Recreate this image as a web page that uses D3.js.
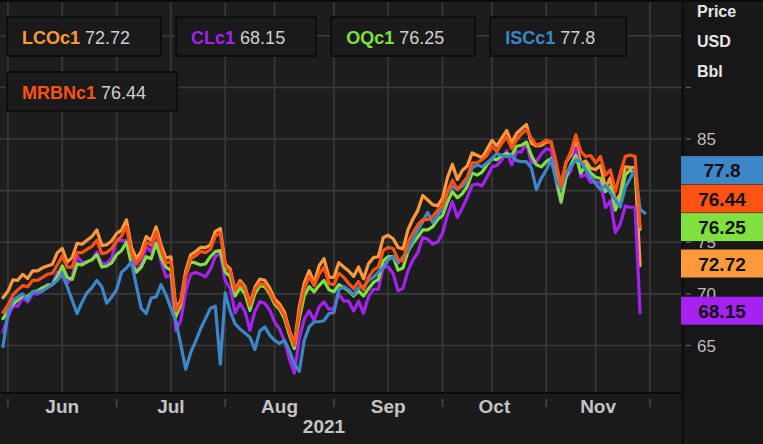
<!DOCTYPE html>
<html><head><meta charset="utf-8">
<script src="https://cdn.jsdelivr.net/npm/d3@7"></script>
<style>
html,body{margin:0;padding:0;background:#191919;}
svg{display:block;}
</style></head><body>
<svg id="c" width="763" height="444"></svg>
<script>
// ---------------- DATA ----------------
const dates = ["5/28",
"6/1","6/2","6/3","6/4","6/7","6/8","6/9","6/10","6/11","6/14","6/15","6/16","6/17","6/18","6/21","6/22","6/23","6/24","6/25","6/28","6/29","6/30",
"7/1","7/2","7/5","7/6","7/7","7/8","7/9","7/12","7/13","7/14","7/15","7/16","7/19","7/20","7/21","7/22","7/23","7/26","7/27","7/28","7/29","7/30",
"8/2","8/3","8/4","8/5","8/6","8/9","8/10","8/11","8/12","8/13","8/16","8/17","8/18","8/19","8/20","8/23","8/24","8/25","8/26","8/27","8/30","8/31",
"9/1","9/2","9/3","9/6","9/7","9/8","9/9","9/10","9/13","9/14","9/15","9/16","9/17","9/20","9/21","9/22","9/23","9/24","9/27","9/28","9/29","9/30",
"10/1","10/4","10/5","10/6","10/7","10/8","10/11","10/12","10/13","10/14","10/15","10/18","10/19","10/20","10/21","10/22","10/25","10/26","10/27","10/28","10/29",
"11/1","11/2","11/3","11/4","11/5","11/8","11/9","11/10","11/11","11/12","11/15","11/16","11/17","11/18","11/19","11/22","11/23","11/24","11/25","11/26",
"11/29"];

const lco = [69.63,70.25,71.35,71.31,71.89,71.49,72.22,72.22,72.52,72.69,
72.86,73.99,74.39,73.08,73.51,74.90,74.81,75.19,75.56,76.18,
74.68,74.76,75.13,75.84,76.17,77.16,74.53,73.43,74.12,75.55,
75.16,76.49,74.76,73.47,73.59,68.62,69.35,72.23,73.79,74.10,
74.50,74.48,74.74,76.05,76.33,72.89,72.41,70.38,71.29,70.70,
69.04,70.63,71.44,71.31,70.59,69.51,69.03,68.23,66.45,65.18,
68.75,71.05,72.25,71.07,72.70,73.41,71.63,71.59,73.03,72.61,
72.22,71.69,72.60,71.45,72.92,73.51,73.60,75.46,75.67,75.34,
74.50,74.36,76.19,77.25,78.09,79.53,79.09,78.64,78.52,79.28,
81.26,82.56,81.08,81.95,82.39,83.65,83.42,83.18,84.00,84.86,
84.33,85.08,85.82,84.61,85.53,85.99,86.40,84.58,84.32,84.38,
84.71,84.72,81.99,80.54,82.74,83.43,84.78,82.64,82.87,82.17,
82.05,82.43,80.28,81.24,78.89,79.70,82.31,82.25,82.22,72.72];

const cl = [66.32,67.72,68.83,68.81,69.62,69.23,70.05,69.96,70.29,70.91,
70.88,72.12,72.15,71.04,71.64,73.66,73.06,73.08,73.30,74.05,
72.91,72.98,73.47,75.23,75.16,75.16,73.37,72.20,72.94,74.56,
74.10,75.25,73.13,71.65,71.81,66.42,67.42,70.30,71.91,72.07,
71.91,71.65,72.39,73.62,73.95,71.26,70.56,68.15,69.09,68.28,
66.48,68.29,69.25,69.09,68.44,67.29,66.59,65.46,63.69,62.32,
65.64,67.54,68.36,67.42,68.74,69.21,68.50,68.59,69.99,69.29,
69.29,68.35,69.30,68.14,69.72,70.45,70.46,72.61,72.61,71.97,
70.29,70.56,72.23,73.30,73.98,75.45,75.29,74.83,75.03,75.88,
77.62,78.93,77.43,78.30,79.35,80.52,80.64,80.44,81.31,82.28,
82.44,82.96,83.87,82.50,83.76,83.76,84.65,82.66,82.81,83.57,
84.05,83.91,80.86,78.81,81.27,81.93,84.15,81.34,81.59,80.79,
80.88,80.76,78.36,79.01,75.94,76.75,78.50,78.39,78.39,68.15];

const oq = [67.6,68.3,69.0,69.4,69.8,69.7,70.2,70.3,70.6,70.8,
70.9,71.7,72.7,71.6,71.4,72.9,72.8,73.1,73.3,73.8,
72.6,72.7,73.0,73.8,74.2,75.0,72.9,72.1,72.6,73.6,
73.4,74.9,73.5,72.6,72.3,67.8,68.9,71.8,73.1,73.0,
72.8,72.9,73.6,74.1,74.2,72.1,71.7,69.8,70.6,70.0,
68.4,70.0,70.8,70.7,70.0,69.0,68.5,67.6,66.0,64.7,
67.6,69.8,70.7,70.2,70.8,71.3,70.4,70.2,70.9,70.6,
70.3,69.8,70.3,69.8,70.5,71.1,71.4,73.2,73.6,73.6,
72.3,72.5,74.1,74.9,75.5,76.2,76.2,76.5,77.2,77.6,
78.9,79.9,79.3,79.7,80.4,81.7,81.5,81.8,82.5,83.1,
83.0,83.4,83.6,83.4,84.3,84.4,84.7,83.4,82.5,82.3,
82.8,83.1,81.2,78.9,81.3,82.5,83.4,81.7,82.5,81.7,
81.3,81.2,79.9,80.4,78.1,79.3,81.5,82.0,81.6,76.25];

const isc = [64.9,68.1,69.4,69.7,70.0,69.4,70.2,70.2,70.3,70.6,
70.9,71.3,71.9,70.7,69.4,68.1,69.2,70.1,70.6,71.3,
70.7,69.1,69.7,70.4,72.1,72.5,73.1,70.8,68.6,68.1,
69.6,69.7,70.9,69.9,68.6,67.4,65.1,62.7,64.3,65.4,
66.6,67.6,68.6,68.8,63.2,70.1,68.3,67.1,66.6,66.2,
65.8,64.6,66.4,66.8,66.0,65.5,65.2,65.5,64.5,63.2,
62.5,65.5,66.8,67.3,67.3,67.4,68.1,68.2,70.4,70.7,
70.4,69.9,70.6,70.7,71.3,71.6,72.1,72.5,73.3,73.6,
73.0,73.6,74.2,75.2,76.2,77.0,77.9,76.9,77.6,78.4,
79.8,80.4,80.1,80.4,81.0,82.2,82.5,82.3,82.7,83.1,
83.6,83.4,83.3,83.4,82.9,82.8,82.8,82.2,80.1,81.2,
82.0,83.0,81.0,80.2,81.7,82.3,83.0,82.8,82.0,81.3,
80.7,80.1,80.5,79.8,79.1,78.4,80.3,81.2,82.1,78.2,
77.8];

const mrbn = [68.2,68.9,69.9,70.4,70.8,70.7,71.3,71.3,71.6,71.9,
72.0,72.8,73.7,72.6,72.6,74.0,74.0,74.3,74.6,75.2,
73.9,74.0,74.4,75.1,75.6,76.5,74.0,72.9,73.6,75.0,
74.7,76.0,74.3,73.0,73.1,68.3,69.2,71.8,73.4,73.7,
74.1,74.0,74.3,75.6,75.9,72.7,72.2,70.3,71.1,70.5,
68.9,70.4,71.0,70.9,70.2,69.2,68.7,67.9,66.3,65.0,
68.2,70.5,71.7,70.8,71.9,72.6,71.0,70.9,72.0,71.6,
71.0,70.5,71.2,70.4,71.6,72.3,72.6,74.2,74.5,74.4,
73.3,73.2,75.0,75.9,76.7,77.2,77.2,77.5,78.1,78.6,
79.9,81.0,80.1,80.7,81.3,82.7,82.7,83.0,83.4,84.3,
83.8,84.6,85.2,84.1,84.9,85.5,85.9,85.1,84.4,84.6,
84.9,84.7,82.8,80.4,82.7,83.8,85.4,83.8,83.3,83.4,
82.7,83.3,81.5,82.0,79.9,81.7,83.3,83.45,83.3,76.44];

const seriesNames  = ["LCOc1","CLc1","OQc1","ISCc1","MRBNc1"];
const seriesValues = [lco, cl, oq, isc, mrbn];
const lastLabels   = ["72.72","68.15","76.25","77.8","76.44"];
const seriesColors = ["#ff9a3c","#a522f0","#80e040","#3d86c8","#ff5214"];

const monthLabels = ["Jun","Jul","Aug","Sep","Oct","Nov"];
const monthStarts = ["6/1","7/1","8/2","9/1","10/1","11/1"];
const midMonths   = ["6/16","7/16","8/16","9/16","10/15","11/15"];
const yearLabel   = "2021";
const yGrid       = [65,70,75,80,85,90,95];
const yTickMarks  = [65,70,75,80,85,90];
const yTickLabels = [65,70,75,85];
const axisTitle   = ["Price","USD","Bbl"];

// ---------------- LAYOUT ----------------
const W = 763, H = 444;
const P = {l:0, r:682, t:2, b:392};
const svg = d3.select("#c");

const x = d3.scalePoint().domain(dates).range([3, 645]);
const y = d3.scaleLinear().domain([65, 85]).range([345.5, 139]);
const step = x.step();
const xEnd = x(dates[dates.length-1]) + step;   // next month boundary

svg.append("rect").attr("width",W).attr("height",H).attr("fill","#1a1a1b");
svg.append("rect").attr("x",P.l).attr("y",P.t).attr("width",P.r-P.l).attr("height",P.b-P.t).attr("fill","#1d1d1e");
svg.append("rect").attr("x",P.r+1).attr("y",0).attr("width",W-P.r-1).attr("height",H).attr("fill","#171718");

svg.append("defs").append("clipPath").attr("id","pc")
  .append("rect").attr("x",P.l).attr("y",P.t).attr("width",P.r-P.l).attr("height",P.b-P.t);

const grid = svg.append("g").attr("stroke","#3a3a3a").attr("stroke-width",1.6);
grid.selectAll("line.h").data(yGrid).join("line")
  .attr("x1",P.l).attr("x2",P.r).attr("y1",d=>y(d)).attr("y2",d=>y(d));
const vx = monthStarts.concat(midMonths).map(d=>x(d)).concat([xEnd]);
grid.selectAll("line.v").data(vx).join("line")
  .attr("x1",d=>d).attr("x2",d=>d).attr("y1",P.t).attr("y2",P.b);

// lines
const lg = svg.append("g").attr("clip-path","url(#pc)");
const line = d3.line().defined(d=>d!=null).x((d,i)=>x(dates[i])).y(d=>y(d));
seriesValues.forEach((vals,k)=>{
  lg.append("path").datum(vals).attr("d",line)
    .attr("fill","none").attr("stroke",seriesColors[k])
    .attr("stroke-width",3.2).attr("stroke-linejoin","round").attr("stroke-linecap","round");
});

// frame lines
svg.append("line").attr("x1",0).attr("x2",W).attr("y1",1).attr("y2",1).attr("stroke","#0b0b0b").attr("stroke-width",2);
svg.append("line").attr("x1",P.r+0.5).attr("x2",P.r+0.5).attr("y1",0).attr("y2",H).attr("stroke","#0b0b0b").attr("stroke-width",2);
svg.append("line").attr("x1",0).attr("x2",P.r).attr("y1",P.b+1).attr("y2",P.b+1).attr("stroke","#0b0b0b").attr("stroke-width",2);

// legend boxes
const legFont = "'Liberation Sans', Arial, sans-serif";
const leg = svg.append("g");
const rows = [[0,1,2,3],[4]];
rows.forEach((row,ri)=>{
  let bx = 7;
  const by = ri===0 ? 17 : 72;
  row.forEach(k=>{
    const g = leg.append("g");
    const rect = g.append("rect").attr("x",bx).attr("y",by).attr("height",39)
      .attr("fill","#1a1a1a").attr("stroke","#0a0a0a").attr("stroke-width",1.5);
    const t = g.append("text").attr("x",bx+15).attr("y",by+27)
      .attr("font-family",legFont).attr("font-size",18);
    t.append("tspan").attr("font-weight","bold").attr("fill",seriesColors[k]).text(seriesNames[k]);
    t.append("tspan").attr("fill","#cfcfcf").attr("dx",5).text(lastLabels[k]);
    const w = t.node().getComputedTextLength() + 5 + 46;
    rect.attr("width",w);
    bx += w + 15;
  });
});

// right axis
const ax = svg.append("g");
ax.selectAll("text.t").data(axisTitle).join("text")
  .attr("x",697).attr("y",(d,i)=>17+i*30)
  .attr("font-family",legFont).attr("font-weight","bold").attr("font-size",16)
  .attr("fill","#e6e6e6").text(d=>d);
ax.selectAll("line.tk").data(yTickMarks).join("line")
  .attr("x1",686).attr("x2",691).attr("y1",d=>y(d)).attr("y2",d=>y(d))
  .attr("stroke","#5a5a5a").attr("stroke-width",1.5);
ax.selectAll("text.yl").data(yTickLabels).join("text")
  .attr("x",697).attr("y",d=>y(d)+6)
  .attr("font-family",legFont).attr("font-size",17).attr("fill","#bdbdbd").text(d=>d);

// last value boxes with collision avoidance
const bh = 28.5;
const order = d3.range(seriesNames.length).sort((a,b)=>(+lastLabels[a])-(+lastLabels[b]));
const pos = {};
let prev = Infinity;
order.forEach(k=>{
  let c = y(+lastLabels[k]) - 2;
  if (c > prev - bh) c = prev - bh;
  pos[k] = c; prev = c;
});
order.forEach(k=>{
  ax.append("rect").attr("x",P.r-1).attr("y",pos[k]-bh/2).attr("width",W-P.r+1).attr("height",bh-0.5)
    .attr("fill",seriesColors[k]);
  ax.append("text").attr("x",722).attr("y",pos[k]+7).attr("text-anchor","middle")
    .attr("font-family",legFont).attr("font-weight","bold").attr("font-size",19)
    .attr("fill","#111").text(lastLabels[k]);
});

// bottom axis
const bxg = svg.append("g");
const bounds = monthStarts.map(d=>x(d)).concat([xEnd]);
bxg.selectAll("line").data(bounds).join("line")
  .attr("x1",d=>d).attr("x2",d=>d).attr("y1",399).attr("y2",407)
  .attr("stroke","#4a4a4a").attr("stroke-width",1.5);
const axFont = "'Liberation Sans Narrow','Liberation Sans',Arial,sans-serif";
bxg.selectAll("text.m").data(monthLabels).join("text")
  .attr("x",(d,i)=>(bounds[i]+bounds[i+1])/2).attr("y",413)
  .attr("text-anchor","middle").attr("font-family",axFont).attr("font-weight","bold")
  .attr("font-size",19).attr("fill","#c4c4c4").text(d=>d);
bxg.append("text").attr("x",(x.range()[0]+x.range()[1])/2).attr("y",433)
  .attr("text-anchor","middle").attr("font-family",axFont).attr("font-weight","bold")
  .attr("font-size",19).attr("fill","#c4c4c4").text(yearLabel);
</script>
</body></html>
